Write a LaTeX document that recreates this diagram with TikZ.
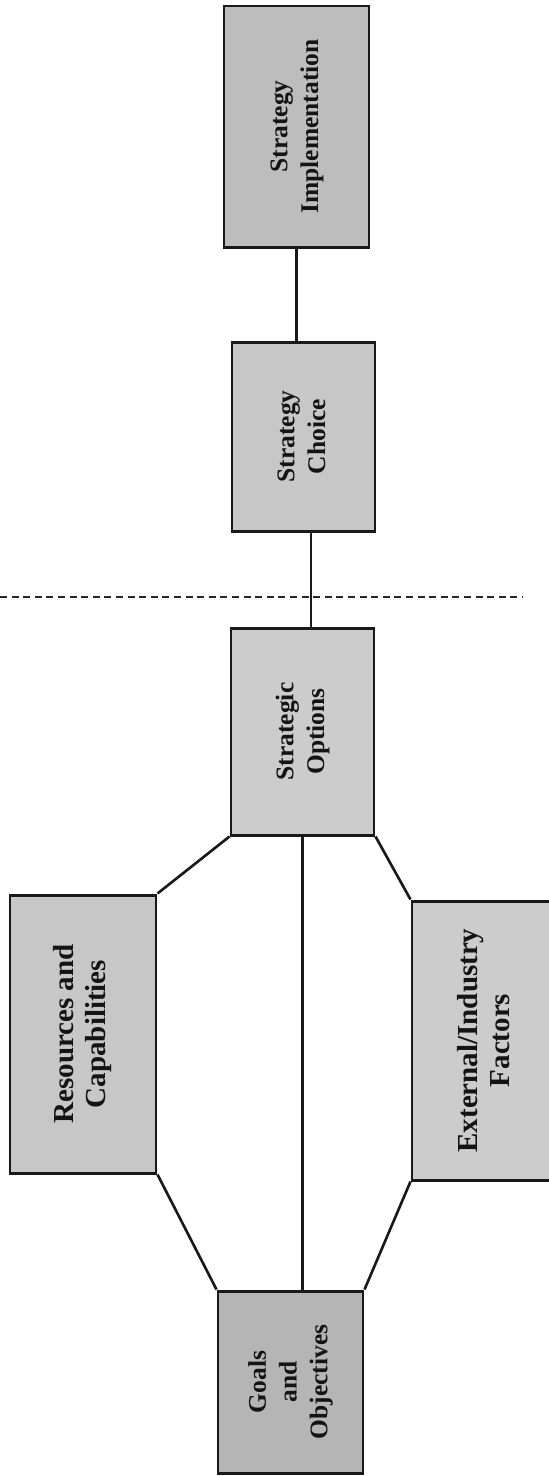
\documentclass[tikz,border=0pt]{standalone}
\usepackage{fontspec}
\setmainfont{Liberation Serif}
\usepackage{graphicx}

% box labels run bottom to top
\newcommand{\sidetext}[1]{\rotatebox{90}{\begin{tabular}{@{}c@{}}#1\end{tabular}}}

\tikzset{
  stage/.style={draw=black!90, line width=1.7pt, inner sep=0pt, text=black!92,
    font=\bfseries\fontsize{14.5}{17.5}\selectfont},
  bigstage/.style={stage, font=\bfseries\fontsize{16.5}{18.5}\selectfont},
  link/.style={draw=black!90, line width=1.5pt},
}

\begin{document}
\begin{tikzpicture}
  \useasboundingbox (0,0) rectangle (10.98,-29.52);

  % upper chain
  \node[stage, fill=black!26, minimum width=2.9cm, minimum height=4.82cm] (impl) at (5.93,-2.53)
    {\sidetext{Strategy\\Implementation}};
  \node[stage, fill=black!22, minimum width=2.86cm, minimum height=3.78cm] (choice) at (6.07,-8.73)
    {\sidetext{Strategy\\Choice}};
  \node[stage, fill=black!20, minimum width=2.86cm, minimum height=4.14cm] (options) at (6.05,-14.63)
    {\sidetext{Strategic\\Options}};

  % lower hexagon
  \node[bigstage, fill=black!22, minimum width=2.92cm, minimum height=5.56cm] (res) at (1.66,-20.68)
    {\sidetext{Resources and\\Capabilities}};
  \node[bigstage, fill=black!20, minimum width=3.0cm, minimum height=5.58cm] (ext) at (9.74,-20.81)
    {\sidetext{External/Industry\\Factors}};
  \node[stage, fill=black!29, minimum width=2.9cm, minimum height=3.64cm] (goals) at (5.81,-27.64)
    {\sidetext{Goals\\and\\Objectives}};

  \draw[link] (impl.south) -- (impl.south |- choice.north);
  \draw[link] ([xshift=0.15cm]choice.south) -- ([xshift=0.15cm]choice.south |- options.north);
  \draw[link] (options.south) -- (options.south |- goals.north);
  \draw[link] (options.south west) -- (res.north east);
  \draw[link] (res.south east) -- (goals.north west);
  \draw[link] (options.south east) -- (ext.north west);
  \draw[link] (ext.south west) -- (goals.north east);

  % divider
  \draw[black!85, line width=1.4pt, dash pattern=on 4pt off 2.6pt] (0,-11.94) -- (10.46,-11.94);
\end{tikzpicture}
\end{document}
